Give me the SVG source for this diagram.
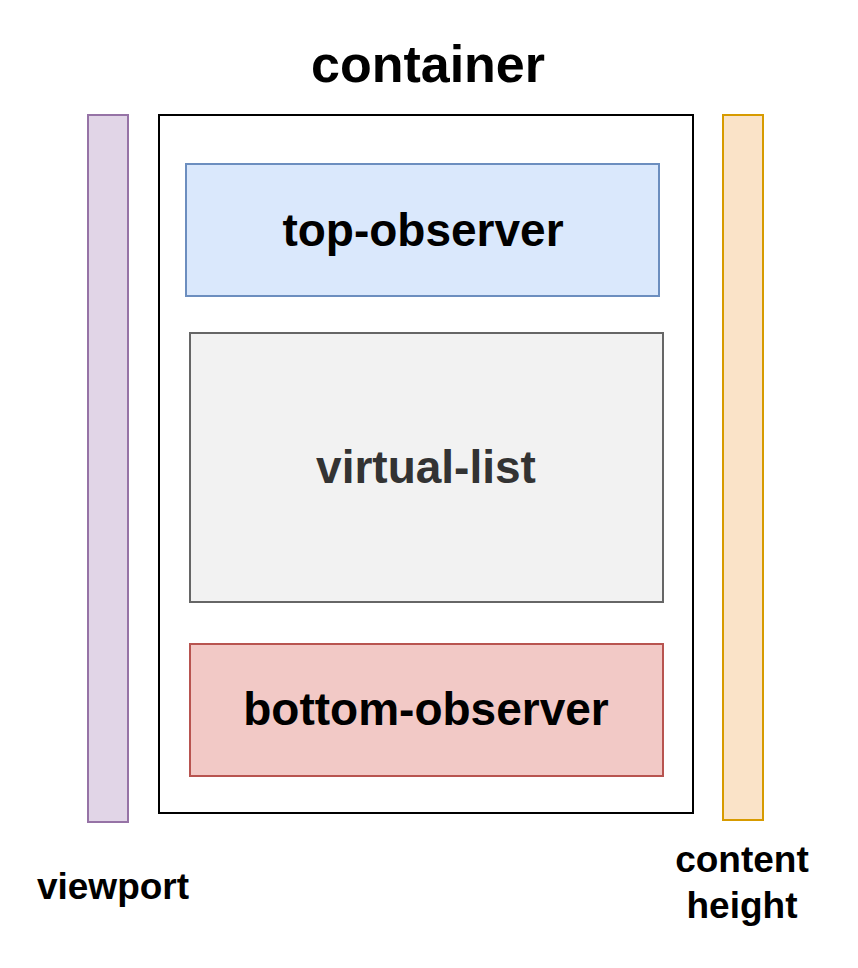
<svg xmlns="http://www.w3.org/2000/svg" width="858" height="968" viewBox="0 0 858 968">
<style>
text{font-family:"Liberation Sans",Arial,Helvetica,sans-serif;font-weight:bold;text-anchor:middle}
.big{font-size:46px}
</style>
<rect width="858" height="968" fill="#ffffff"/>
<g id="viewport">
<rect x="88" y="115" width="40" height="707" fill="#e1d5e7" stroke="#9673a6" stroke-width="2"/>
<text x="113" y="899" font-size="37">viewport</text>
</g>
<g id="container">
<rect x="159" y="115" width="534" height="698" fill="#ffffff" stroke="#000000" stroke-width="2"/>
<text x="428" y="82" font-size="52">container</text>
</g>
<g id="content-height">
<rect x="723" y="115" width="40" height="705" fill="#fae3c8" stroke="#d79b00" stroke-width="2"/>
<text x="742" y="872" font-size="37">content</text>
<text x="742" y="918" font-size="37">height</text>
</g>
<g id="top-observer">
<rect x="186" y="164" width="473" height="132" fill="#dae8fc" stroke="#6c8ebf" stroke-width="2"/>
<text class="big" x="423" y="246">top-observer</text>
</g>
<g id="virtual-list">
<rect x="190" y="333" width="473" height="269" fill="#f2f2f2" stroke="#666666" stroke-width="2"/>
<text class="big" x="426" y="483" fill="#333333">virtual-list</text>
</g>
<g id="bottom-observer">
<rect x="190" y="644" width="473" height="132" fill="#f2c9c6" stroke="#b85450" stroke-width="2"/>
<text class="big" x="426" y="725">bottom-observer</text>
</g>
<g id="connectors"/>
</svg>
